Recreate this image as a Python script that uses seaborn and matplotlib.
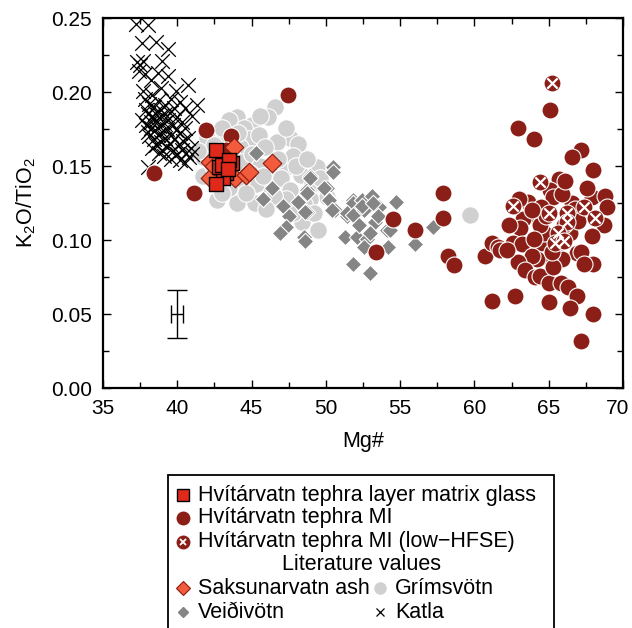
#!/usr/bin/env python3
"""K2O/TiO2 vs Mg# scatter for Hvitarvatn tephra vs literature values."""

import matplotlib
matplotlib.use("Agg")
import matplotlib.pyplot as plt
import matplotlib.transforms as mtransforms
from matplotlib.lines import Line2D
from matplotlib.patches import Rectangle
import seaborn as sns
import pandas as pd

# ------------------------------
# Data (Mg#, K2O/TiO2)
# ------------------------------
katla_mg = [37.2, 38.0, 37.6, 38.6, 39.4, 37.3, 37.7, 39.0, 37.4, 38.7, 39.4, 40.7, 37.7, 39.9,
            41.3, 37.5, 37.8, 38.2, 38.3, 38.9, 39.6, 40.2, 40.5, 41.0,
            37.8, 38.1, 38.4, 38.7, 38.9, 39.2, 39.5, 39.8, 38.0, 38.3, 38.6, 38.9, 39.1, 39.4,
            39.7, 40.0, 40.3, 37.9, 38.2, 38.5, 38.8, 39.0, 39.3, 39.6, 39.9, 40.2, 40.5, 38.1,
            38.4, 38.7, 38.9, 39.2, 39.5, 39.8, 40.1, 40.4, 40.7, 38.3, 38.6, 39.0, 39.3, 39.7,
            40.0, 40.3, 40.6, 40.9, 39.1, 39.6, 40.2, 40.5, 40.8, 41.0, 38.0, 37.9, 38.5, 39.2,
            38.2, 38.0, 38.8, 37.6]
katla_k = [0.246, 0.245, 0.233, 0.234, 0.229, 0.220, 0.221, 0.221, 0.214, 0.213, 0.211, 0.205,
           0.201, 0.201, 0.191, 0.218, 0.212, 0.208, 0.198, 0.203, 0.195, 0.193, 0.189, 0.184,
           0.195, 0.192, 0.190, 0.194, 0.188, 0.191, 0.186, 0.189, 0.185, 0.183, 0.181, 0.184,
           0.179, 0.181, 0.178, 0.183, 0.180, 0.178, 0.176, 0.174, 0.177, 0.173, 0.175, 0.171,
           0.174, 0.172, 0.176, 0.170, 0.168, 0.171, 0.166, 0.169, 0.165, 0.168, 0.165, 0.167,
           0.169, 0.162, 0.164, 0.161, 0.163, 0.160, 0.158, 0.161, 0.159, 0.162, 0.157, 0.155,
           0.154, 0.152, 0.156, 0.158, 0.149, 0.188, 0.186, 0.185, 0.180, 0.173, 0.159, 0.181]

grims_mg = [42.0, 41.7, 41.7, 42.7, 44.0, 45.2, 48.4, 47.8, 46.6, 46.1, 44.0, 43.5, 45.0, 47.6,
            46.7, 48.1, 46.4, 46.2, 47.3, 47.8, 48.3, 49.1, 49.4, 50.1, 44.5, 44.8, 45.5, 45.9,
            44.2, 43.2, 42.5, 42.4, 42.9, 43.6, 44.3, 45.0, 45.6, 44.9, 45.3, 44.3, 43.5, 42.6,
            43.0, 44.6, 45.8, 46.8, 47.0, 47.6, 48.0, 48.7, 48.9, 49.6, 48.5, 47.3, 46.5, 44.1,
            43.0, 45.6, 47.3, 49.2, 49.5, 41.4, 46.0, 59.7]
grims_k = [0.169, 0.156, 0.143, 0.127, 0.125, 0.125, 0.112, 0.118, 0.190, 0.183, 0.183, 0.181,
           0.178, 0.169, 0.166, 0.165, 0.149, 0.137, 0.149, 0.157, 0.144, 0.138, 0.149, 0.129,
           0.176, 0.168, 0.171, 0.163, 0.163, 0.170, 0.164, 0.150, 0.160, 0.158, 0.153, 0.158,
           0.150, 0.145, 0.138, 0.140, 0.135, 0.140, 0.132, 0.132, 0.143, 0.155, 0.142, 0.134,
           0.150, 0.155, 0.128, 0.142, 0.124, 0.128, 0.130, 0.172, 0.176, 0.184, 0.176, 0.118,
           0.107, 0.160, 0.121, 0.117]

veidi_mg = [45.3, 46.4, 45.8, 47.1, 47.5, 48.1, 48.7, 48.9, 50.1, 50.3, 50.5, 50.5, 48.7, 47.3,
            46.9, 48.5, 50.6, 51.4, 51.8, 51.8, 48.9, 49.9, 48.7, 50.2, 50.4, 48.6, 48.6, 51.8,
            52.4, 53.1, 51.4, 51.8, 52.6, 53.6, 54.7, 53.3, 54.1, 54.3, 51.3, 52.1, 52.8, 52.6,
            54.2, 51.8, 53.0, 56.0, 57.2, 53.5, 52.2, 53.0, 52.4, 53.2]
veidi_k = [0.159, 0.135, 0.128, 0.123, 0.116, 0.126, 0.134, 0.143, 0.135, 0.127, 0.149, 0.146,
           0.119, 0.109, 0.105, 0.102, 0.120, 0.116, 0.127, 0.118, 0.142, 0.135, 0.132, 0.127,
           0.120, 0.119, 0.099, 0.125, 0.127, 0.130, 0.118, 0.117, 0.120, 0.122, 0.126, 0.112,
           0.107, 0.107, 0.102, 0.102, 0.101, 0.095, 0.095, 0.084, 0.078, 0.097, 0.109, 0.116,
           0.110, 0.105, 0.123, 0.125]

saks_mg = [46.4, 42.2, 42.2, 43.9, 44.6, 44.8, 43.8, 42.5, 43.3]
saks_k = [0.152, 0.153, 0.142, 0.142, 0.144, 0.146, 0.163, 0.150, 0.146]

glass_mg = [42.6, 43.1, 43.7, 43.3, 43.1, 42.6, 42.8, 43.0, 43.5, 43.4]
glass_k = [0.161, 0.149, 0.152, 0.145, 0.142, 0.138, 0.149, 0.151, 0.154, 0.148]

mi_mg = [47.45, 41.9, 43.6, 38.4, 41.1, 43.3, 57.9, 57.9, 56.0, 54.5, 53.4, 58.2, 58.6, 60.7,
         61.2, 61.6, 65.1, 62.9, 64.0, 67.2, 66.6, 68.0, 65.7, 65.1, 63.6, 67.9, 68.8, 68.9,
         68.7, 67.9, 66.6, 65.3, 64.5, 64.3, 63.3, 63.1, 61.7, 62.6, 63.2, 64.5, 64.7, 65.8,
         66.4, 66.9, 67.2, 68.0, 67.4, 65.9, 65.0, 64.2, 63.9, 62.9, 63.4, 64.1, 64.4, 65.0,
         65.8, 66.3, 66.9, 65.0, 66.4, 68.0, 67.2, 61.2, 62.7, 66.8, 64.4, 65.6, 65.3, 64.8,
         65.9, 63.9, 62.2, 66.1, 66.0, 67.0, 65.2, 64.0, 62.3, 63.0, 67.6]
mi_k = [0.198, 0.174, 0.170, 0.145, 0.132, 0.161, 0.132, 0.115, 0.107, 0.114, 0.092, 0.089,
        0.083, 0.089, 0.098, 0.095, 0.188, 0.176, 0.168, 0.161, 0.156, 0.147, 0.141, 0.134,
        0.126, 0.129, 0.130, 0.122, 0.110, 0.103, 0.125, 0.129, 0.122, 0.114, 0.114, 0.108,
        0.093, 0.098, 0.097, 0.098, 0.105, 0.102, 0.105, 0.091, 0.092, 0.084, 0.084, 0.087,
        0.088, 0.087, 0.089, 0.085, 0.080, 0.075, 0.076, 0.071, 0.071, 0.068, 0.062, 0.058,
        0.054, 0.050, 0.032, 0.059, 0.062, 0.121, 0.110, 0.098, 0.082, 0.116, 0.131, 0.120,
        0.093, 0.140, 0.110, 0.113, 0.092, 0.101, 0.110, 0.128, 0.135]

lowhfse_mg = [65.2, 64.4, 62.6, 65.0, 66.2, 67.4, 68.1, 66.2, 65.6, 65.4, 66.0]
lowhfse_k = [0.206, 0.139, 0.123, 0.118, 0.118, 0.122, 0.115, 0.112, 0.105, 0.098, 0.099]

# analytical uncertainty bar
err_mg, err_k = 40.0, 0.05
err_dmg, err_dk = 0.4, 0.016

# ------------------------------
# Styles
# ------------------------------
C_MI = '#8b1f17'
C_SAKS = '#f25b3b'
C_GLASS = '#e0291b'
C_GRIMS = '#d0d0d0'
C_VEIDI = '#858585'

sns.set_style("ticks")
plt.rcParams['font.family'] = ['Liberation Sans', 'DejaVu Sans']
plt.rcParams['mathtext.fontset'] = 'custom'
plt.rcParams['mathtext.rm'] = 'Liberation Sans'
plt.rcParams['mathtext.it'] = 'Liberation Sans:italic'
plt.rcParams['text.color'] = 'black'
plt.rcParams['axes.labelcolor'] = 'black'

W, H = 632, 628
fig = plt.figure(figsize=(W / 100, H / 100), dpi=100)
ax = fig.add_axes([103 / W, 1 - 388 / H, 520 / W, 370 / H])

df = lambda x, y: pd.DataFrame({'mg': x, 'k': y})

sns.scatterplot(data=df(grims_mg, grims_k), x='mg', y='k', ax=ax, marker='o', s=160,
                color=C_GRIMS, edgecolor='white', linewidth=0.8, zorder=2)
sns.scatterplot(data=df(veidi_mg, veidi_k), x='mg', y='k', ax=ax, marker='D', s=70,
                color=C_VEIDI, edgecolor='white', linewidth=0.8, zorder=3)
sns.scatterplot(data=df(katla_mg, katla_k), x='mg', y='k', ax=ax, marker='x', s=110,
                color='black', linewidth=0.9, zorder=3)
sns.scatterplot(data=df(mi_mg, mi_k), x='mg', y='k', ax=ax, marker='o', s=150,
                color=C_MI, edgecolor='white', linewidth=0.8, zorder=4)
sns.scatterplot(data=df(lowhfse_mg, lowhfse_k), x='mg', y='k', ax=ax, marker='o', s=150,
                color=C_MI, edgecolor='white', linewidth=0.8, zorder=5)
sns.scatterplot(data=df(lowhfse_mg, lowhfse_k), x='mg', y='k', ax=ax, marker='x', s=55,
                color='white', linewidth=1.6, zorder=5)
sns.scatterplot(data=df(saks_mg, saks_k), x='mg', y='k', ax=ax, marker='D', s=90,
                color=C_SAKS, edgecolor='#8a1a10', linewidth=0.8, zorder=6)
sns.scatterplot(data=df(glass_mg, glass_k), x='mg', y='k', ax=ax, marker='s', s=110,
                color=C_GLASS, edgecolor='black', linewidth=1.0, zorder=7)

# error bars
ax.errorbar(err_mg, err_k, yerr=err_dk, fmt='none', ecolor='black', elinewidth=1.0,
            capsize=7, capthick=1.0)
ax.errorbar(err_mg, err_k, xerr=err_dmg, fmt='none', ecolor='black', elinewidth=1.0,
            capsize=6.5, capthick=1.0)

ax.set_xlim(35, 70)
ax.set_ylim(0, 0.25)
ax.set_xticks([35, 40, 45, 50, 55, 60, 65, 70])
ax.set_xticks([37.5, 42.5, 47.5, 52.5, 57.5, 62.5, 67.5], minor=True)
ax.set_yticks([0.0, 0.05, 0.10, 0.15, 0.20, 0.25])
ax.set_yticklabels(['0.00', '0.05', '0.10', '0.15', '0.20', '0.25'])
ax.set_yticks([0.025, 0.075, 0.125, 0.175, 0.225], minor=True)
ax.tick_params(which='both', direction='in', top=True, right=True, labelsize=15,
               width=1.0, color='black', labelcolor='black')
ax.tick_params(which='major', length=6, pad=8)
ax.tick_params(which='minor', length=4)
for sp in ax.spines.values():
    sp.set_linewidth(1.6)
    sp.set_color('black')
ax.set_xlabel('Mg#', fontsize=15.5, labelpad=9)
ax.set_ylabel('K$_2$O/TiO$_2$', fontsize=15.5, labelpad=9)

# nudge the last x tick label left so it stays inside the figure, as in the original
last = ax.get_xticklabels()[-1]
last.set_transform(last.get_transform() + mtransforms.ScaledTranslation(-5 / 100, 0, fig.dpi_scale_trans))

# ------------------------------
# Legend, drawn by hand in figure pixels
# ------------------------------
fig.add_artist(Rectangle((168 / W, 1 - 650 / H), (554 - 168) / W, (650 - 475) / H,
                         transform=fig.transFigure, facecolor='white', edgecolor='black',
                         linewidth=1.3))


def legend_entry(xm, yp, label, markers):
    for m in markers:
        fig.add_artist(Line2D([xm / W], [1 - yp / H], transform=fig.transFigure, linestyle='', **m))
    fig.text((xm + 15) / W, 1 - yp / H, label, fontsize=15.5, va='center', ha='left')


legend_entry(183, 495, 'Hvítárvatn tephra layer matrix glass',
             [dict(marker='s', markersize=8, markerfacecolor=C_GLASS, markeredgecolor='black', markeredgewidth=1)])
legend_entry(183, 518, 'Hvítárvatn tephra MI',
             [dict(marker='o', markersize=9, markerfacecolor=C_MI, markeredgecolor=C_MI)])
legend_entry(183, 542, 'Hvítárvatn tephra MI (low\u2212HFSE)',
             [dict(marker='o', markersize=9, markerfacecolor=C_MI, markeredgecolor=C_MI),
              dict(marker='x', markersize=5, markeredgecolor='white', markeredgewidth=1.3)])
fig.text(361 / W, 1 - 565 / H, 'Literature values', fontsize=15.5, va='center', ha='center')
legend_entry(183, 588, 'Saksunarvatn ash',
             [dict(marker='D', markersize=7.5, markerfacecolor=C_SAKS, markeredgecolor='#8a1a10', markeredgewidth=0.8)])
legend_entry(183, 612, 'Veiðivötn',
             [dict(marker='D', markersize=5.5, markerfacecolor=C_VEIDI, markeredgecolor=C_VEIDI)])
legend_entry(380, 588, 'Grímsvötn',
             [dict(marker='o', markersize=8, markerfacecolor=C_GRIMS, markeredgecolor=C_GRIMS)])
legend_entry(380, 612, 'Katla',
             [dict(marker='x', markersize=6, markeredgecolor='black', markeredgewidth=0.9)])

fig.savefig('out.png', dpi=100)
plt.close(fig)
